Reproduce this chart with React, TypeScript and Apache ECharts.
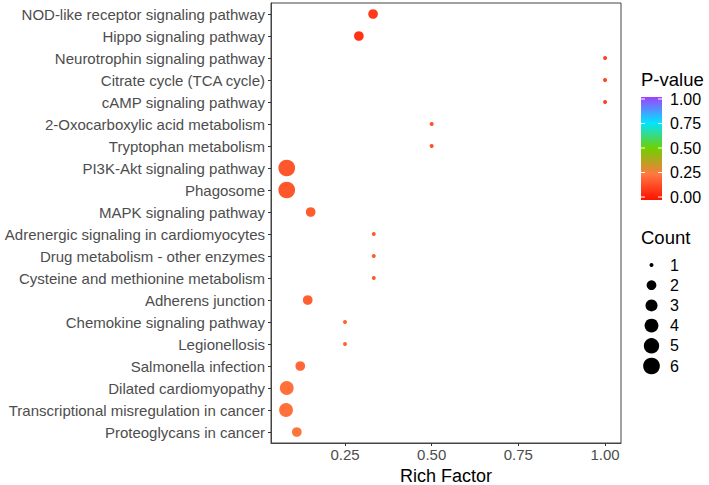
import React, { useEffect, useRef } from "react";
import * as echarts from "echarts";

const categories = [
  "NOD-like receptor signaling pathway",
  "Hippo signaling pathway",
  "Neurotrophin signaling pathway",
  "Citrate cycle (TCA cycle)",
  "cAMP signaling pathway",
  "2-Oxocarboxylic acid metabolism",
  "Tryptophan metabolism",
  "PI3K-Akt signaling pathway",
  "Phagosome",
  "MAPK signaling pathway",
  "Adrenergic signaling in cardiomyocytes",
  "Drug metabolism - other enzymes",
  "Cysteine and methionine metabolism",
  "Adherens junction",
  "Chemokine signaling pathway",
  "Legionellosis",
  "Salmonella infection",
  "Dilated cardiomyopathy",
  "Transcriptional misregulation in cancer",
  "Proteoglycans in cancer",
];
const richFactor = [0.331, 0.29, 1.0, 1.0, 1.0, 0.5, 0.5, 0.082, 0.082, 0.151, 0.333, 0.333, 0.333, 0.1425, 0.25, 0.25, 0.121, 0.082, 0.08, 0.111];
const pValue = [0.1, 0.08, 0.12, 0.12, 0.12, 0.15, 0.15, 0.17, 0.17, 0.18, 0.18, 0.18, 0.18, 0.19, 0.2, 0.2, 0.21, 0.23, 0.23, 0.24];
const counts = [2, 2, 1, 1, 1, 1, 1, 6, 6, 2, 1, 1, 1, 2, 1, 1, 2, 4, 4, 2];

const xTicks = [0.25, 0.5, 0.75, 1.0];
const pTicks = [0, 0.25, 0.5, 0.75, 1.0];
const countLevels = [1, 2, 3, 4, 5, 6];

const gradientColors = ["#FF1100", "#FF7840", "#70D000", "#00E5FF", "#A040FF"];
const FONT = "Liberation Sans, Arial, sans-serif";

const sizeFor = (c: number) => 4 + (16.7 - 4) * Math.sqrt((c - 1) / 5);

export default function App() {
  const ref = useRef<HTMLDivElement>(null);
  useEffect(() => {
    if (!ref.current) return;
    const chart = echarts.init(ref.current, undefined, { renderer: "svg" });

    const barTop = 97;
    const barBottom = 200;
    const vTop = 99;
    const vBottom = 197;
    const yOfP = (v: number) => vBottom - (vBottom - vTop) * v;

    const graphics: any[] = [];
    graphics.push({
      type: "text",
      x: 641,
      y: 79,
      style: { text: "P-value", fontSize: 18.5, fontFamily: FONT, fill: "#000", textVerticalAlign: "middle" },
    });
    graphics.push({
      type: "rect",
      shape: { x: 641, y: barTop, width: 21, height: barBottom - barTop },
      style: {
        fill: new echarts.graphic.LinearGradient(
          0, 1, 0, 0,
          gradientColors.map((c, i) => ({ offset: i / (gradientColors.length - 1), color: c }))
        ),
      },
    });
    pTicks.forEach((v) => {
      const y = yOfP(v);
      graphics.push({ type: "line", shape: { x1: 641, y1: y, x2: 645, y2: y }, style: { stroke: "#fff", lineWidth: 1 } });
      graphics.push({ type: "line", shape: { x1: 658, y1: y, x2: 662, y2: y }, style: { stroke: "#fff", lineWidth: 1 } });
      graphics.push({
        type: "text",
        x: 670,
        y: y,
        style: { text: v.toFixed(2), fontSize: 16, fontFamily: FONT, fill: "#000", textVerticalAlign: "middle" },
      });
    });

    graphics.push({
      type: "text",
      x: 641,
      y: 237,
      style: { text: "Count", fontSize: 18.5, fontFamily: FONT, fill: "#000", textVerticalAlign: "middle" },
    });
    countLevels.forEach((c, i) => {
      const y = 265 + 20.2 * i;
      graphics.push({ type: "circle", shape: { cx: 651.5, cy: y, r: sizeFor(c) / 2 }, style: { fill: "#000" } });
      graphics.push({
        type: "text",
        x: 670,
        y: y,
        style: { text: String(c), fontSize: 16, fontFamily: FONT, fill: "#000", textVerticalAlign: "middle" },
      });
    });

    chart.setOption({
      animation: false,
      backgroundColor: "#fff",
      grid: {
        left: 271,
        right: 88,
        top: 3,
        bottom: 42,
        show: true,
        borderColor: "#444",
        borderWidth: 1,
        backgroundColor: "transparent",
        outerBoundsMode: "none",
        containLabel: false,
      },
      xAxis: {
        type: "value",
        min: 0.0366,
        max: 1.046,
        name: "Rich Factor",
        nameLocation: "middle",
        nameGap: 18,
        nameTextStyle: { fontSize: 18, lineHeight: 19, fontFamily: FONT, color: "#000" },
        axisLine: { show: true, lineStyle: { color: "#444" } },
        axisTick: { show: true, length: 3, customValues: xTicks, lineStyle: { color: "#333" } },
        axisLabel: {
          customValues: xTicks,
          formatter: (v: number) => v.toFixed(2),
          fontSize: 15,
          fontFamily: FONT,
          color: "#4D4D4D",
          margin: 4,
        },
        splitLine: { show: false },
      },
      yAxis: {
        type: "category",
        data: categories,
        inverse: true,
        boundaryGap: true,
        axisLine: { show: true, lineStyle: { color: "#444" } },
        axisTick: { show: true, length: 3, alignWithLabel: true, lineStyle: { color: "#333" } },
        axisLabel: { fontSize: 15, fontFamily: FONT, color: "#4D4D4D", margin: 6 },
        splitLine: { show: false },
      },
      visualMap: {
        show: false,
        type: "continuous",
        dimension: 2,
        min: 0,
        max: 1,
        seriesIndex: 0,
        inRange: { color: gradientColors },
      },
      series: [
        {
          type: "scatter",
          data: categories.map((c, i) => [richFactor[i], c, pValue[i], counts[i]]),
          symbolSize: (v: any) => sizeFor(v[3]),
          itemStyle: { opacity: 1 },
        },
      ],
      graphic: graphics,
    });
    return () => chart.dispose();
  }, []);
  return <div ref={ref} style={{ width: 709, height: 485, position: "absolute", left: 0, top: 0 }} />;
}
